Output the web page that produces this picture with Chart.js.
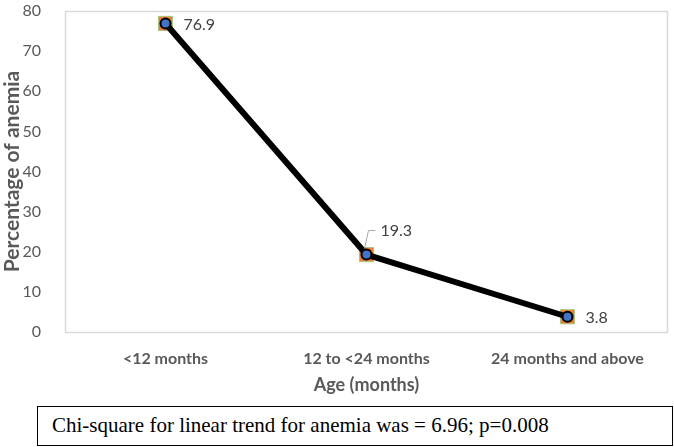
<!DOCTYPE html>
<html>
<head>
<meta charset="utf-8">
<script src="https://cdn.jsdelivr.net/npm/chart.js@4.4.0/dist/chart.umd.min.js"></script>
<style>
  body { margin: 0; background: #fff; }
  #wrap { position: relative; width: 674px; height: 447px; }
  #chartBox { position: absolute; left: 0; top: 0; width: 674px; height: 400px; }
  .note {
    position: absolute; left: 37px; top: 406px; width: 636px; height: 40px;
    border: 1.5px solid #000; box-sizing: border-box;
    font-family: "Liberation Serif", "Times New Roman", serif; font-size: 21px;
    line-height: 37px; padding-left: 14px; color: #000;
  }
</style>
</head>
<body>
<div id="wrap">
  <div id="chartBox"><canvas id="myChart" width="674" height="400"></canvas></div>
  <div class="note">Chi-square for linear trend for anemia was = 6.96; p=0.008</div>
</div>
<script>
var categories = ["<12 months", "12 to <24 months", "24 months and above"];
var anemia = [76.9, 19.3, 3.8];
var yTicks = [0, 10, 20, 30, 40, 50, 60, 70, 80];

var grey = "#595959";
var font = "Lato, 'Open Sans', sans-serif";

// light frame round the plot area and the value labels
var framePlugin = {
  id: "frame",
  beforeDatasetsDraw: function(chart) {
    var a = chart.chartArea, c = chart.ctx;
    c.save();
    c.strokeStyle = "#d9d9d9";
    c.lineWidth = 1.5;
    c.strokeRect(a.left + 0.5, a.top + 0.5, a.right - a.left - 1, a.bottom - a.top);
    c.restore();
  },
  afterDatasetsDraw: function(chart) {
    var meta = chart.getDatasetMeta(1), c = chart.ctx;
    c.save();
    c.font = "16px " + font;
    c.fillStyle = "#404040";
    c.textBaseline = "middle";
    meta.data.forEach(function(pt, i) {
      var txt = anemia[i].toFixed(1);
      if (i === 1) {
        // leader line
        c.strokeStyle = "#a6a6a6";
        c.lineWidth = 1;
        c.beginPath();
        c.moveTo(pt.x - 2, pt.y - 6);
        c.lineTo(pt.x + 2, pt.y - 24);
        c.lineTo(pt.x + 9, pt.y - 24);
        c.stroke();
        c.fillText(txt, pt.x + 14, pt.y - 24);
      } else {
        c.fillText(txt, pt.x + 18, pt.y + 1);
      }
    });
    c.restore();
  }
};

var ctx = document.getElementById("myChart");
var myChart = new Chart(ctx, {
  type: "line",
  data: {
    labels: categories,
    datasets: [
      {
        label: "marker",
        data: anemia,
        showLine: false,
        pointStyle: "rect",
        pointRadius: 10,
        pointBackgroundColor: "#ed7d31",
        pointBorderColor: "#a9c47f",
        pointBorderWidth: 1,
        order: 2
      },
      {
        label: "Percentage of anemia",
        data: anemia,
        borderColor: "#000000",
        borderWidth: 6,
        pointRadius: 5,
        pointBackgroundColor: "#4472c4",
        pointBorderColor: "#000000",
        pointBorderWidth: 2,
        tension: 0,
        order: 1
      }
    ]
  },
  options: {
    responsive: false,
    animation: false,
    maintainAspectRatio: false,
    layout: { autoPadding: false, padding: { top: 11, right: 6, left: 0, bottom: 0 } },
    plugins: {
      legend: { display: false },
      tooltip: { enabled: false }
    },
    scales: {
      x: {
        offset: true,
        grid: { display: false, offset: true },
        border: { display: false },
        ticks: {
          color: grey,
          padding: 9,
          font: { family: font, size: 16, weight: "bold" }
        },
        title: {
          display: true,
          text: "Age (months)",
          color: grey,
          padding: { top: 11 },
          font: { family: font, size: 18, weight: "bold" }
        },
        afterFit: function(s) { s.height = 68; }
      },
      y: {
        min: 0,
        max: 80,
        grid: { display: false },
        border: { display: false },
        afterBuildTicks: function(s) {
          s.ticks = yTicks.map(function(v) { return { value: v }; });
        },
        ticks: {
          color: grey,
          padding: 16,
          font: { family: font, size: 16 }
        },
        title: {
          display: true,
          text: "Percentage of anemia",
          color: grey,
          padding: { top: 0, bottom: 0 },
          font: { family: font, size: 21, weight: "bold" }
        },
        afterFit: function(s) {
          s.width = 65;
          s.paddingTop = 0;
          s.paddingBottom = 0;
        }
      }
    }
  },
  plugins: [framePlugin]
});
</script>
</body>
</html>
